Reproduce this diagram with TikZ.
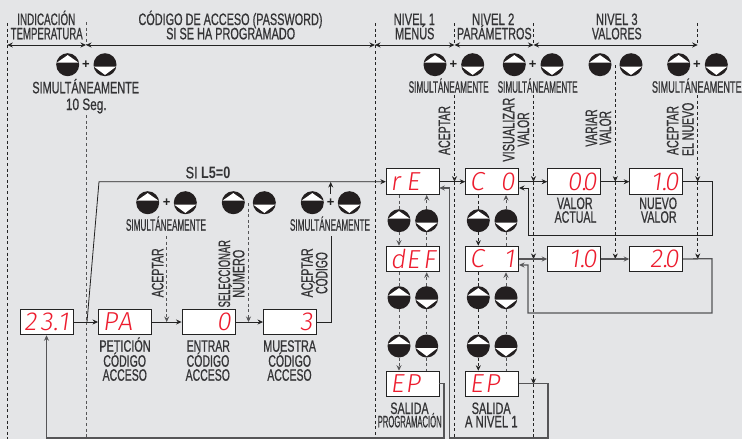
\documentclass[tikz,border=0pt]{standalone}
\usepackage{fontspec}
\usepackage{graphicx}
\setmainfont{Liberation Sans}
\newfontfamily\lblfont[FakeBold=0.9]{Liberation Sans}
\newfontfamily\lblboldfont{Liberation Sans Bold}
\newfontfamily\segfont[FakeSlant=0.14]{Fira Sans Light}
\usetikzlibrary{arrows.meta,calc}
\definecolor{bgc}{RGB}{228,229,231}
\definecolor{labc}{RGB}{52,52,54}
\definecolor{linec}{RGB}{35,35,35}
\definecolor{greyl}{RGB}{85,85,87}
\definecolor{segc}{RGB}{237,28,46}
\definecolor{btnc}{RGB}{35,31,32}
\newcommand\fitw[2]{\setbox0=\hbox{#2}\pgfmathsetmacro\rr{#1/\the\wd0}\scalebox{\rr}[1]{\box0}}
\newcommand\lab[5]{\node[lbl] (#1) at (#2,#3) {\fitw{#4}{#5}};}
\newcommand\rlab[5]{\node[lbl,rotate=90] (#1) at (#2,#3) {\fitw{#4}{#5}};}
\newcommand\disp[6]{\node[dsp] (#1) at (#2,#3) {\hbox to 45pt{\hbox to 15pt{#4\hss}\hbox to 15pt{\hss#5\hss}\hbox to 15pt{\hss#6}}};}
\newcommand\btnup[3]{\node[btn] (#1) at (#2,#3) {};
  \fill[white] (#1.center) +(0,-9.6) -- +(10.9,-2) -- +(-10.9,-2) -- cycle;}
\newcommand\btndn[3]{\node[btn] (#1) at (#2,#3) {};
  \fill[white] (#1.center) +(0,10.2) -- +(10.9,2) -- +(-10.9,2) -- cycle;}
\newcommand\plusm[3]{\node[plusn] (#1) at (#2,#3) {+};}
\tikzset{
  lbl/.style={inner sep=0pt,anchor=base,text=labc,font=\lblfont\fontsize{16.5}{16.5}\selectfont},
  dsp/.style={draw=linec,line width=.9pt,fill=white,minimum width=53pt,minimum height=25.6pt,inner sep=0pt,
    text=segc,font=\segfont\fontsize{26}{26}\selectfont},
  btn/.style={circle,fill=btnc,minimum size=23pt,inner sep=0pt},
  plusn/.style={inner sep=0pt,text=linec,font=\bfseries\fontsize{13}{13}\selectfont},
  sol/.style={draw=linec,line width=.8pt},
  solg/.style={draw=greyl,line width=1.3pt},
  dsh/.style={draw=linec,line width=.75pt,dash pattern=on 3pt off 2.6pt},
  dshg/.style={draw=greyl,line width=1pt,dash pattern=on 3pt off 2.6pt},
  arr/.style={-{Stealth[length=5.5pt,width=5pt]}},
  darr/.style={{Stealth[length=5.5pt,width=5pt]}-{Stealth[length=5.5pt,width=5pt]}},
}
\begin{document}
\begin{tikzpicture}[x=1pt,y=-1pt]
\useasboundingbox (0,0) rectangle (742,439);
\fill[bgc] (0,0) rectangle (742,439);

% displays
\disp{d231}{46.5}{322}{2}{3\rlap{.}}{1}
\disp{dPA}{125}{322}{P}{A}{}
\disp{dZero}{208.5}{322}{}{}{0}
\disp{dThree}{290}{322}{}{}{3}
\disp{dRE}{412.8}{181.7}{r}{E}{}
\disp{dCO}{492.2}{181.7}{C}{}{0}
\disp{dVA}{574.2}{181.7}{}{0\rlap{.}}{0}
\disp{dNV}{656.2}{181.7}{}{1\rlap{.}}{0}
\disp{dDEF}{412.8}{259}{d}{E}{F}
\disp{dCI}{492.2}{259}{C}{}{1}
\disp{dVB}{574.2}{259}{}{1\rlap{.}}{0}
\disp{dNB}{656.2}{259}{}{2\rlap{.}}{0}
\disp{dEPa}{412.8}{384}{E}{P}{}
\disp{dEPb}{492.2}{384}{E}{P}{}

% buttons and plus signs
\btnup{bA}{67.7}{64.7}\btndn{bB}{105}{64.7}\plusm{pA}{86}{65}
\btnup{bC}{435}{64.7}\btndn{bD}{472.7}{64.7}\plusm{pB}{453.3}{65}
\btnup{bE}{514.3}{64.7}\btndn{bF}{552}{64.7}\plusm{pC}{532.7}{65}
\btnup{bG}{600}{64.7}\btndn{bH}{631}{64.7}
\btnup{bI}{678.7}{64.7}\btndn{bJ}{716.3}{64.7}\plusm{pD}{697}{65}
\btnup{bK}{147.7}{202.7}\btndn{bL}{185.3}{202.7}\plusm{pE}{166.7}{203}
\btnup{bM}{233.3}{202.7}\btndn{bN}{264.3}{202.7}
\btnup{bO}{312.3}{202.7}\btndn{bP}{349.3}{202.7}\plusm{pF}{330.7}{203}
\btnup{cA}{399}{220.7}\btndn{cB}{426.7}{220.7}
\btnup{cC}{399}{297.7}\btndn{cD}{426.7}{297.7}
\btnup{cE}{399}{346}\btndn{cF}{426.7}{346}
\btnup{cG}{478.3}{220.7}\btndn{cH}{506}{220.7}
\btnup{cI}{478.3}{297.7}\btndn{cJ}{506}{297.7}
\btnup{cK}{478.3}{346}\btndn{cL}{506}{346}

% free ends of the connectors
\coordinate (vAt) at (7.3,23);   \coordinate (vAb) at (7.3,439);
\coordinate (vBt) at (86,22);    \coordinate (vBm) at (86,45);  \coordinate (vBl) at (86,115); \coordinate (vBb) at (86,439);
\coordinate (vCt) at (375,23);   \coordinate (vCb) at (375,439);
\coordinate (vDt) at (454.5,23); \coordinate (vDm) at (454.5,95); \coordinate (vDb) at (454.5,439);
\coordinate (vEt) at (533.5,23); \coordinate (vEm) at (533.5,95); \coordinate (vEb) at (533.5,439);
\coordinate (vFt) at (615.3,65);
\coordinate (vGt) at (697.7,23); \coordinate (vGm) at (697.7,95);
\coordinate (hA) at (0,45);
\coordinate (acA) at (166.7,236); \coordinate (acB) at (248.5,203);
\coordinate (acC) at (331,236); \coordinate (acD) at (331,322);
\coordinate (upA) at (330.7,194); \coordinate (upB) at (330.7,182);
\coordinate (sA) at (87,322); \coordinate (sB) at (99,181.7);
\coordinate (rA) at (712,181.7); \coordinate (rB) at (712,235.3); \coordinate (rC) at (528,235.3); \coordinate (rD) at (528,188); \coordinate (rE) at (519,188);
\coordinate (qA) at (712,258.7); \coordinate (qB) at (712,313); \coordinate (qC) at (528,313); \coordinate (qD) at (528,265); \coordinate (qE) at (519,265);
\coordinate (xA) at (439.3,383.7); \coordinate (xB) at (444,383.7); \coordinate (xC) at (444,438); \coordinate (xD) at (46.5,438);
\coordinate (yA) at (518.7,383.7); \coordinate (yB) at (548,383.7); \coordinate (yC) at (548,438); \coordinate (yD) at (449.3,438); \coordinate (yE) at (449.3,188); \coordinate (yF) at (439.3,188);

% vertical dashed guides
\draw[dsh] (vAt) -- (vAb);
\draw[dshg] (vBt) -- (vBm);
\draw[dshg] (vBl) -- (vBb);
\draw[dsh] (vCt) -- (vCb);
\draw[dsh] (vDt) -- (vDt |- hA);
\draw[dsh,arr] (vDm) -- (vDm |- dRE.west);
\draw[dsh] (vDm |- dRE.west) -- (vDb);
\draw[dsh] (vEt) -- (vEt |- hA);
\draw[dsh,arr] (vEm) -- (vEm |- dCO.west);
\draw[dsh,arr] (vEm |- dCO.west) -- (vEm |- dCI.west);
\draw[dsh,arr] (vEm |- dCI.west) -- (vEm |- dEPb.west);
\draw[dsh] (vEm |- dEPb.west) -- (vEb);
\draw[dsh,arr] (vFt) -- (vFt |- dVA.east);
\draw[dsh,arr] (vFt |- dVA.east) -- (vFt |- dVB.east);
\draw[dsh] (vGt) -- (vGt |- hA);
\draw[dsh,arr] (vGm) -- (vGm |- dNV.east);
\draw[dsh,arr] (vGm |- dNV.east) -- (vGm |- dNB.east);
\draw[dshg,arr] (acA) -- (acA |- dPA.east);
\draw[dshg,arr] (acB) -- (acB |- dZero.east);

% span arrows
\draw[sol,darr] (vAt |- hA) -- (vBm);
\draw[sol,darr] (vBm) -- (vCt |- hA);
\draw[sol,darr] (vCt |- hA) -- (vDt |- hA);
\draw[sol,darr] (vDt |- hA) -- (vEt |- hA);
\draw[sol,darr] (vEt |- hA) -- (vGt |- hA);

% solid connectors
\draw[sol,arr] (d231.east) -- (dPA.west);
\draw[sol,arr] (dPA.east) -- (dZero.west);
\draw[sol,arr] (dZero.east) -- (dThree.west);
\draw[sol] (dThree.east) -- (acD) -- (acC);
\draw[sol,arr] (upA) -- (upB);
\draw[sol,arr] (sA) -- (sB) -- (dRE.west);
\draw[sol,arr] (dRE.east) -- (dCO.west);
\draw[sol,arr] (dCO.east) -- (dVA.west);
\draw[sol,arr] (dVA.east) -- (dNV.west);
\draw[sol,arr] (dNV.east) -- (rA) -- (rB) -- (rC) -- (rD) -- (rE);
\draw[solg,arr] (dCI.east) -- (dVB.west);
\draw[solg,arr] (dVB.east) -- (dNB.west);
\draw[solg,arr] (dNB.east) -- (qA) -- (qB) -- (qC) -- (qD) -- (qE);
\draw[solg,arr] (xA) -- (xB) -- (xC) -- (xD) -- (d231.south);
\draw[solg,arr] (yA) -- (yB) -- (yC) -- (yD) -- (yE) -- (yF);

% column connectors
\draw[dshg] (dRE.south -| cA) -- (cA.north);
\draw[dshg,arr] (cA.south) -- (dDEF.north -| cA);
\draw[dshg,arr] (cB.north) -- (dRE.south -| cB);
\draw[dshg] (dDEF.north -| cB) -- (cB.south);
\draw[dshg] (dDEF.south -| cC) -- (cC.north);
\draw[dshg] (cC.south) -- (cE.north);
\draw[dshg,arr] (cE.south) -- (dEPa.north -| cE);
\draw[dshg,arr] (cD.north) -- (dDEF.south -| cD);
\draw[dshg] (cD.south) -- (cF.north);
\draw[dshg] (cF.south) -- (dEPa.north -| cF);
\draw[dsh] (dCO.south -| cG) -- (cG.north);
\draw[dsh,arr] (cG.south) -- (dCI.north -| cG);
\draw[dshg,arr] (cH.north) -- (dCO.south -| cH);
\draw[dshg] (dCI.north -| cH) -- (cH.south);
\draw[dsh] (dCI.south -| cI) -- (cI.north);
\draw[dsh] (cI.south) -- (cK.north);
\draw[dsh,arr] (cK.south) -- (dEPb.north -| cK);
\draw[dshg,arr] (cJ.north) -- (dCI.south -| cJ);
\draw[dshg] (cJ.south) -- (cL.north);
\draw[dshg] (cL.south) -- (dEPb.north -| cL);

% labels
\lab{tA}{46.3}{25}{58}{INDICACIÓN}
\lab{tB}{46.7}{39.3}{72}{TEMPERATURA}
\lab{tC}{230.5}{25}{184}{CÓDIGO DE ACCESO (PASSWORD)}
\lab{tD}{230.7}{39.3}{129}{SI SE HA PROGRAMADO}
\lab{tE}{414.3}{25}{41.3}{NIVEL 1}
\lab{tF}{414.7}{39.3}{39.3}{MENÚS}
\lab{tG}{493.2}{25}{42.3}{NIVEL 2}
\lab{tH}{494.3}{39.3}{74.7}{PARÁMETROS}
\lab{tI}{616.8}{25}{41.7}{NIVEL 3}
\lab{tJ}{616.8}{39.3}{49.7}{VALORES}
\lab{tK}{85.7}{93.3}{106.7}{SIMULTÁNEAMENTE}
\lab{tL}{86.3}{110}{40.7}{10 Seg.}
\lab{tM}{448.7}{92.7}{80}{SIMULTÁNEAMENTE}
\lab{tN}{537.7}{92.7}{80}{SIMULTÁNEAMENTE}
\lab{tO}{696.8}{92.7}{89.7}{SIMULTÁNEAMENTE}
\lab{tP}{166}{230.7}{80}{SIMULTÁNEAMENTE}
\lab{tQ}{330}{230.7}{80}{SIMULTÁNEAMENTE}
\lab{tR}{208}{178.3}{44.7}{SI {\lblboldfont L5=0}}
\rlab{rA1}{450}{130.5}{49}{ACEPTAR}
\rlab{rB1}{514.3}{129.7}{64}{VISUALIZAR}
\rlab{rB2}{529}{129.5}{34.3}{VALOR}
\rlab{rC1}{597}{128}{37.3}{VARIAR}
\rlab{rC2}{611}{128}{34}{VALOR}
\rlab{rD1}{678.3}{130.5}{49}{ACEPTAR}
\rlab{rD2}{693.7}{129.3}{53.3}{EL NUEVO}
\rlab{rE1}{163.3}{272.8}{49}{ACEPTAR}
\rlab{rF1}{230}{273.7}{67.3}{SELECCIONAR}
\rlab{rF2}{244.3}{273.7}{48}{NÚMERO}
\rlab{rG1}{312.7}{272.8}{49}{ACEPTAR}
\rlab{rG2}{327.3}{273}{41.7}{CÓDIGO}
\lab{uA}{125}{351.7}{51.3}{PETICIÓN}
\lab{uB}{124.7}{366.7}{42.7}{CÓDIGO}
\lab{uC}{124.8}{380.7}{44.3}{ACCESO}
\lab{uD}{208.3}{351.7}{43.3}{ENTRAR}
\lab{uE}{208}{366.7}{42.7}{CÓDIGO}
\lab{uF}{207.8}{380.7}{44.3}{ACCESO}
\lab{uG}{289.7}{351.7}{52.7}{MUESTRA}
\lab{uH}{289.7}{366.7}{42.7}{CÓDIGO}
\lab{uI}{289.5}{380.7}{44.3}{ACCESO}
\lab{uJ}{574.8}{209}{35.7}{VALOR}
\lab{uK}{575.5}{222.7}{41.7}{ACTUAL}
\lab{uL}{658.2}{209}{37.7}{NUEVO}
\lab{uM}{658.8}{222.7}{35.7}{VALOR}
\lab{uN}{409.5}{414}{38.3}{SALIDA}
\lab{uO}{409.7}{427.3}{64}{PROGRAMACIÓN}
\lab{uP}{491.2}{414}{39}{SALIDA}
\lab{uQ}{491.3}{427.3}{52.7}{A NIVEL 1}
\end{tikzpicture}
\end{document}
